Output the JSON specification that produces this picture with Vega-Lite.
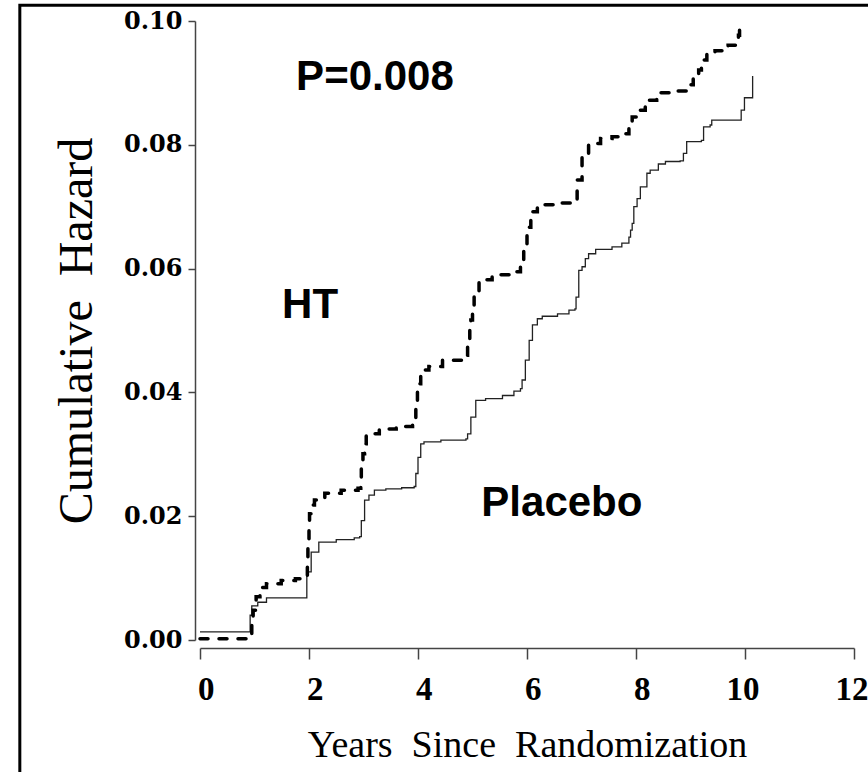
{
  "$schema": "https://vega.github.io/schema/vega-lite/v6.json",
  "autosize": "none",
  "width": 654,
  "height": 619,
  "padding": {"left": 200, "top": 21, "right": 14, "bottom": 132},
  "background": "white",
  "config": {"view": {"stroke": null}},
  "datasets": {
    "ht": [
      {"t": 0, "h": 0.0002}, {"t": 0.95, "h": 0.003}, {"t": 0.975, "h": 0.0048}, {"t": 1.03, "h": 0.007},
      {"t": 1.1, "h": 0.0085}, {"t": 1.22, "h": 0.0091}, {"t": 1.49, "h": 0.0096}, {"t": 1.75, "h": 0.0099},
      {"t": 1.93, "h": 0.01}, {"t": 1.97, "h": 0.0123}, {"t": 1.98, "h": 0.0156}, {"t": 2.0, "h": 0.0185},
      {"t": 2.01, "h": 0.0204}, {"t": 2.05, "h": 0.0218}, {"t": 2.1, "h": 0.0226}, {"t": 2.29, "h": 0.0237},
      {"t": 2.59, "h": 0.0242}, {"t": 2.9, "h": 0.0245}, {"t": 2.95, "h": 0.0262}, {"t": 2.96, "h": 0.0279},
      {"t": 2.99, "h": 0.0301}, {"t": 3.02, "h": 0.0317}, {"t": 3.05, "h": 0.0333}, {"t": 3.29, "h": 0.0341},
      {"t": 3.6, "h": 0.0345}, {"t": 3.9, "h": 0.035}, {"t": 3.96, "h": 0.0376}, {"t": 3.99, "h": 0.0414},
      {"t": 4.05, "h": 0.0436}, {"t": 4.2, "h": 0.0442}, {"t": 4.45, "h": 0.0452}, {"t": 4.82, "h": 0.046},
      {"t": 4.91, "h": 0.0479}, {"t": 4.95, "h": 0.05}, {"t": 4.97, "h": 0.0517}, {"t": 5.0, "h": 0.0538},
      {"t": 5.03, "h": 0.056}, {"t": 5.12, "h": 0.0582}, {"t": 5.36, "h": 0.059}, {"t": 5.73, "h": 0.0595},
      {"t": 5.88, "h": 0.0603}, {"t": 5.94, "h": 0.0635}, {"t": 6.0, "h": 0.0667}, {"t": 6.07, "h": 0.0692},
      {"t": 6.19, "h": 0.0703}, {"t": 6.52, "h": 0.0706}, {"t": 6.86, "h": 0.0711}, {"t": 6.92, "h": 0.0743},
      {"t": 7.01, "h": 0.0786}, {"t": 7.13, "h": 0.0802}, {"t": 7.35, "h": 0.081}, {"t": 7.56, "h": 0.0813},
      {"t": 7.74, "h": 0.0818}, {"t": 7.87, "h": 0.0829}, {"t": 7.93, "h": 0.0845}, {"t": 8.02, "h": 0.0856},
      {"t": 8.17, "h": 0.0872}, {"t": 8.38, "h": 0.0884}, {"t": 8.72, "h": 0.0887}, {"t": 8.93, "h": 0.0897},
      {"t": 9.05, "h": 0.0907}, {"t": 9.15, "h": 0.0921}, {"t": 9.2, "h": 0.0937}, {"t": 9.3, "h": 0.095},
      {"t": 9.45, "h": 0.0952}, {"t": 9.69, "h": 0.0961}, {"t": 9.88, "h": 0.0977}, {"t": 9.9, "h": 0.0985},
      {"t": 9.93, "h": 0.099}
    ],
    "placebo": [
      {"t": 0, "h": 0.0013}, {"t": 0.92, "h": 0.004}, {"t": 0.95, "h": 0.0055}, {"t": 1.06, "h": 0.0061},
      {"t": 1.22, "h": 0.0068}, {"t": 1.96, "h": 0.011}, {"t": 2.04, "h": 0.0142}, {"t": 2.18, "h": 0.0158},
      {"t": 2.5, "h": 0.0162}, {"t": 2.83, "h": 0.0165}, {"t": 2.93, "h": 0.0167}, {"t": 2.96, "h": 0.0193},
      {"t": 3.02, "h": 0.0226}, {"t": 3.1, "h": 0.0234}, {"t": 3.2, "h": 0.0242}, {"t": 3.41, "h": 0.0244},
      {"t": 3.7, "h": 0.0246}, {"t": 3.93, "h": 0.0248}, {"t": 3.96, "h": 0.0269}, {"t": 4.0, "h": 0.0295},
      {"t": 4.05, "h": 0.0317}, {"t": 4.11, "h": 0.032}, {"t": 4.42, "h": 0.0323}, {"t": 4.88, "h": 0.0325},
      {"t": 4.91, "h": 0.0333}, {"t": 4.97, "h": 0.036}, {"t": 5.06, "h": 0.0387}, {"t": 5.24, "h": 0.039},
      {"t": 5.55, "h": 0.0395}, {"t": 5.76, "h": 0.0402}, {"t": 5.88, "h": 0.0406}, {"t": 5.91, "h": 0.042},
      {"t": 5.97, "h": 0.0452}, {"t": 6.04, "h": 0.0484}, {"t": 6.1, "h": 0.0509}, {"t": 6.19, "h": 0.0519},
      {"t": 6.28, "h": 0.0523}, {"t": 6.56, "h": 0.0527}, {"t": 6.77, "h": 0.0533}, {"t": 6.88, "h": 0.0535},
      {"t": 6.9, "h": 0.0554}, {"t": 6.95, "h": 0.0597}, {"t": 7.01, "h": 0.0603}, {"t": 7.07, "h": 0.0616},
      {"t": 7.13, "h": 0.0624}, {"t": 7.26, "h": 0.0631}, {"t": 7.56, "h": 0.0635}, {"t": 7.74, "h": 0.0641},
      {"t": 7.87, "h": 0.0651}, {"t": 7.9, "h": 0.0662}, {"t": 7.93, "h": 0.0673}, {"t": 7.96, "h": 0.07},
      {"t": 8.02, "h": 0.0713}, {"t": 8.08, "h": 0.0732}, {"t": 8.2, "h": 0.0754}, {"t": 8.26, "h": 0.0759},
      {"t": 8.41, "h": 0.0769}, {"t": 8.54, "h": 0.0773}, {"t": 8.81, "h": 0.0774}, {"t": 8.87, "h": 0.0786},
      {"t": 8.93, "h": 0.0805}, {"t": 9.2, "h": 0.0807}, {"t": 9.24, "h": 0.0829}, {"t": 9.36, "h": 0.0832},
      {"t": 9.39, "h": 0.084}, {"t": 9.93, "h": 0.0856}, {"t": 9.99, "h": 0.0876}, {"t": 10.14, "h": 0.0911}
    ],
    "labels": [
      {"label": "P=0.008", "t": 3.21, "h": 0.0888},
      {"label": "HT", "t": 2.02, "h": 0.052},
      {"label": "Placebo", "t": 6.64, "h": 0.0201}
    ]
  },
  "layer": [
    {
      "data": {"name": "placebo"},
      "mark": {"type": "line", "interpolate": "step-after", "color": "#222222", "strokeWidth": 1.3},
      "encoding": {
        "x": {
          "field": "t", "type": "quantitative",
          "scale": {"domain": [0, 12], "nice": false, "zero": false},
          "axis": {
            "title": "Years\u00a0 Since\u00a0 Randomization",
            "titleFont": "Liberation Serif", "titleFontSize": 38, "titleFontWeight": "normal", "titleColor": "black",
            "titlePadding": 20,
            "values": [0, 2, 4, 6, 8, 10, 12], "format": "d",
            "labelFont": "Liberation Serif", "labelFontWeight": "bold", "labelFontSize": 33, "labelColor": "black",
            "labelAlign": "right", "labelOffset": 14, "labelPadding": 14, "labelFlush": false,
            "offset": 8, "tickSize": 11, "tickColor": "#444444", "tickWidth": 1.5,
            "domainColor": "#444444", "domainWidth": 1.5, "grid": false
          }
        },
        "y": {
          "field": "h", "type": "quantitative",
          "scale": {"domain": [0, 0.1], "nice": false},
          "axis": {
            "title": "Cumulative\u00a0 Hazard",
            "titleFont": "Liberation Serif", "titleFontSize": 48, "titleFontWeight": "normal", "titleColor": "black",
            "titlePadding": 22,
            "values": [0, 0.02, 0.04, 0.06, 0.08, 0.1], "format": ".2f",
            "labelFont": "DejaVu Serif", "labelFontWeight": "bold", "labelFontSize": 24, "labelColor": "black",
            "labelPadding": 6, "labelFlush": false,
            "offset": 5, "tickSize": 7, "tickColor": "#444444", "tickWidth": 1.5,
            "domainColor": "#444444", "domainWidth": 1.5, "grid": false
          }
        }
      }
    },
    {
      "data": {"name": "ht"},
      "mark": {"type": "line", "interpolate": "step-after", "color": "black", "strokeWidth": 3.5, "strokeDash": [8, 11], "strokeCap": "round"},
      "encoding": {
        "x": {"field": "t", "type": "quantitative"},
        "y": {"field": "h", "type": "quantitative"}
      }
    },
    {
      "data": {"name": "labels"},
      "mark": {"type": "text", "font": "Liberation Sans", "fontWeight": "bold", "fontSize": 42, "align": "center", "baseline": "alphabetic", "color": "black"},
      "encoding": {
        "x": {"field": "t", "type": "quantitative"},
        "y": {"field": "h", "type": "quantitative"},
        "text": {"field": "label"}
      }
    },
    {
      "data": {"values": [{}]},
      "mark": {"type": "rect", "filled": false, "stroke": "black", "strokeWidth": 3, "clip": false},
      "encoding": {
        "x": {"datum": -3.306, "type": "quantitative"},
        "x2": {"datum": 12.6},
        "y": {"datum": 0.10254, "type": "quantitative"},
        "y2": {"datum": -0.04}
      }
    }
  ]
}
